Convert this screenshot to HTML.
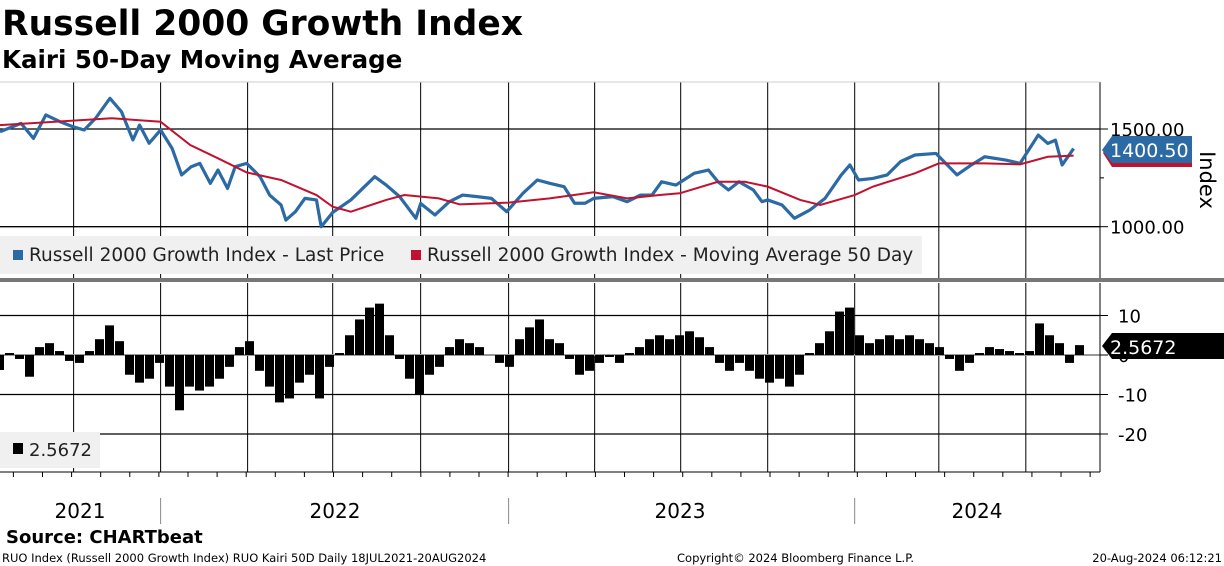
<!DOCTYPE html>
<html><head><meta charset="utf-8">
<style>
body{margin:0;background:#fff;width:1224px;height:566px;overflow:hidden;font-family:"Liberation Sans",sans-serif}
svg{display:block}
text{font-family:"DejaVu Sans","Liberation Sans",sans-serif}
</style></head>
<body>
<svg id="c" width="1224" height="566">
<text x="2" y="35" font-size="34.5" font-weight="bold">Russell 2000 Growth Index</text>
<text x="2" y="68" font-size="24.5" font-weight="bold">Kairi 50-Day Moving Average</text>
<g id="grid"></g>
<rect x="0" y="236" width="922" height="38" fill="#f0f0f0"/>
<rect x="13" y="250" width="10" height="10" fill="#2c6aa6"/>
<text x="29" y="261" font-size="18.5" fill="#222">Russell 2000 Growth Index - Last Price</text>
<rect x="411" y="250" width="10" height="10" fill="#c0122e"/>
<text x="427" y="261" font-size="18.5" fill="#222">Russell 2000 Growth Index - Moving Average 50 Day</text>
<g id="price"></g>
<g id="kairi"></g>
<rect x="0" y="278" width="1224" height="4" fill="#777"/>
<rect x="0" y="432" width="100" height="36" fill="#f0f0f0"/>
<rect x="13" y="443" width="10" height="11" fill="#000"/>
<text x="29" y="456" font-size="18" fill="#222">2.5672</text>
<g id="axes"></g>
<text x="0" y="0" font-size="21" transform="translate(1200,180) rotate(90)" text-anchor="middle">Index</text>
<polygon points="1112,139 1192,139 1192,167 1112,167 1103,153" fill="#c0122e"/>
<polygon points="1112,136 1192,136 1192,163 1112,163 1102,150" fill="#2c6aa6"/>
<text x="1110" y="157" font-size="19" fill="#fff">1400.50</text>
<polygon points="1112,333 1224,333 1224,359 1112,359 1102,346" fill="#000"/>
<text x="1110" y="354" font-size="19" fill="#fff">2.5672</text>
<text x="6" y="543" font-size="18" font-weight="bold">Source: CHARTbeat</text>
<text x="2" y="562" font-size="11.5">RUO Index (Russell 2000 Growth Index) RUO Kairi 50D  Daily 18JUL2021-20AUG2024</text>
<text x="677" y="562" font-size="11.5">Copyright© 2024 Bloomberg Finance L.P.</text>
<text x="1222" y="562" font-size="11.5" text-anchor="end">20-Aug-2024 06:12:21</text>
</svg>
<script>
// days since 18JUL2021
const priceDays=[0,22,35,48,63,76,88,100,115,127,139,146,156,168,180,190,200,209,220,228,238,246,258,272,282,294,299,309,319,331,336,348,367,392,404,418,435,440,455,470,484,499,514,530,547,562,575,590,601,612,621,641,656,670,682,692,707,726,741,751,762,773,788,797,803,818,831,847,863,880,889,898,913,928,942,957,979,1001,1016,1030,1052,1067,1086,1096,1104,1111,1123];
const priceVals=[1486,1529,1452,1572,1537,1512,1495,1555,1657,1589,1444,1520,1427,1495,1401,1265,1307,1324,1222,1290,1196,1307,1324,1256,1162,1111,1034,1077,1145,1137,1000,1073,1137,1256,1213,1154,1043,1119,1060,1128,1162,1154,1145,1077,1171,1239,1222,1205,1120,1120,1145,1154,1128,1162,1162,1230,1213,1273,1290,1230,1188,1230,1188,1128,1137,1111,1043,1085,1145,1265,1316,1239,1247,1265,1333,1367,1375,1265,1316,1358,1341,1324,1469,1426,1443,1316,1400];
const maDays=[0,117,168,199,228,258,294,331,348,367,404,423,459,481,532,575,621,656,690,711,751,779,803,837,858,894,913,957,982,1030,1067,1096,1123];
const maVals=[1520,1555,1537,1418,1350,1278,1239,1162,1102,1077,1137,1162,1145,1114,1123,1145,1176,1145,1162,1171,1230,1230,1205,1137,1111,1162,1205,1273,1324,1324,1319,1358,1364];
const kairiStep=10.46;
const kairiVals=[-3.8,0.5,-1,-5.5,2,3,1,-1.5,-2,1,4,7.5,3.5,-5,-7,-6,-2,-8,-14,-8,-9,-8,-6,-3,2,3.5,-4,-8,-12,-11,-7,-5,-11,-3,0.5,5,9,12,13,5,-1,-6,-10,-5,-3,2,4,3,2,0,-2,-3,4,7,9,4,3,-1,-5,-4,-2,-0.5,-2,0.5,2,4,5,4,5,6,4.5,2,-2,-4,-2,-4,-6,-7,-6,-8,-5,0.5,3,6,11,12,5,3,4,5,4,5,4,3,2,-1,-4,-2,0.5,2,1.5,1,0.5,1,8,5,3,-2,2.5];
const priceTicks=[1500,1000], priceTickLabels=["1500.00","1000.00"];
const kairiTicks=[10,0,-10,-20], kairiTickLabels=["10","0","-10","-20"];
const years=["2021","2022","2023","2024"];
// quarter-start days since 18JUL2021
const qDays=[77,168,259,348,440,532,622,712,803,894,982,1073];
const yearDiv=[168,532,894];

const NS="http://www.w3.org/2000/svg";
const x=d=>d/1.046;
const yP=v=>226.7-(v-1000)*0.1954;
const yK=v=>355-v*3.95;
function mk(p,tag,a){const e=document.createElementNS(NS,tag);for(const k in a)e.setAttribute(k,a[k]);p.appendChild(e);return e;}
const grid=document.getElementById('grid'),axes=document.getElementById('axes');
qDays.forEach((d,i)=>{
  const l1=mk(grid,'line',{x1:x(d),x2:x(d),y1:82,y2:278,stroke:'#000','stroke-width':1});
  
  
  const l2=mk(grid,'line',{x1:x(d),x2:x(d),y1:283,y2:472,stroke:'#000','stroke-width':1});
  
  
});
priceTicks.forEach((t,i)=>{
  const l=mk(grid,'line',{x1:0,x2:1100,y1:yP(t),y2:yP(t),stroke:'#000','stroke-width':1.3});
  
  
  const tx=mk(axes,'text',{x:1110,y:yP(t)+7,'font-size':18});
  tx.textContent=priceTickLabels[i];
  
  
  mk(axes,'line',{x1:1100,x2:1108,y1:yP(t),y2:yP(t),stroke:'#000'});
});
mk(axes,'line',{x1:1100,x2:1104,y1:yP(1250),y2:yP(1250),stroke:'#000'});
kairiTicks.forEach((t,i)=>{
  const l=mk(grid,'line',{x1:0,x2:1100,y1:yK(t),y2:yK(t),stroke:t===0?'#999':'#000','stroke-width':t===0?2:1.3});
  
  
  const tx=mk(axes,'text',{x:1118,y:yK(t)+7,'font-size':18});
  tx.textContent=kairiTickLabels[i];
  
  
  mk(axes,'line',{x1:1100,x2:1108,y1:yK(t),y2:yK(t),stroke:'#000'});
});
mk(axes,'line',{x1:1100,x2:1100,y1:82,y2:278,stroke:'#000'});
mk(axes,'line',{x1:1100,x2:1100,y1:283,y2:472,stroke:'#000'});
mk(axes,'line',{x1:0,x2:1100,y1:82,y2:82,stroke:'#ccc'});
mk(axes,'line',{x1:0,x2:1100,y1:472,y2:472,stroke:'#000'});
for(let m=0;m<38;m++){const d=14+m*30.44;if(x(d)<1100)mk(axes,'line',{x1:x(d),x2:x(d),y1:472,y2:477,stroke:'#000'});}
yearDiv.forEach(d=>mk(axes,'line',{x1:x(d),x2:x(d),y1:498,y2:524,stroke:'#888'}));
const yearPos=[80,335,680,977];
years.forEach((y,i)=>{const t=mk(axes,'text',{x:yearPos[i],y:518,'font-size':20,'text-anchor':'middle'});t.textContent=y;
  
  });

const kg=document.getElementById('kairi');
const bw=kairiStep/1.046;
kairiVals.forEach((v,i)=>{
  const cx=x(i*kairiStep);
  const r=mk(kg,'rect',{x:cx-bw/2,width:bw*0.9,y:Math.min(yK(v),yK(0)),height:Math.abs(yK(v)-yK(0)),fill:'#000'});
  
  
});

const pg=document.getElementById('price');
const pl=mk(pg,'polyline',{points:priceDays.map((d,i)=>x(d)+','+yP(priceVals[i])).join(' '),fill:'none',stroke:'#2c6aa6','stroke-width':3.2,'stroke-linejoin':'round'});


const ml=mk(pg,'polyline',{points:maDays.map((d,i)=>x(d)+','+yP(maVals[i])).join(' '),fill:'none',stroke:'#c0122e','stroke-width':2});


</script>
</body></html>
